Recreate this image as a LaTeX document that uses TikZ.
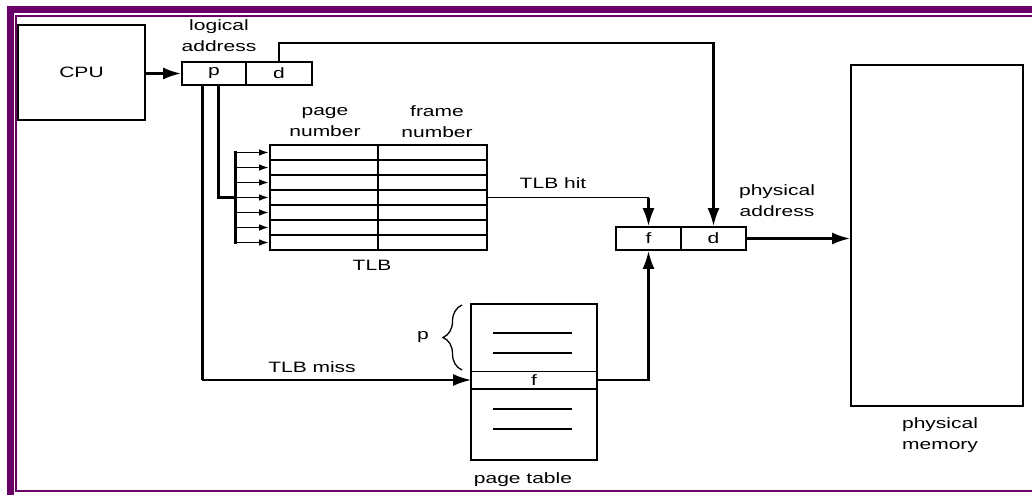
\documentclass[tikz,border=0pt]{standalone}
\usepackage{fontspec}
\setmainfont{Liberation Sans}[FakeStretch=1.4]
\usetikzlibrary{arrows.meta,decorations.pathreplacing}
\definecolor{frame}{RGB}{104,0,104}
\begin{document}
\begin{tikzpicture}[x=1pt,y=-1pt,
  box/.style={draw,line width=1.6pt,inner sep=0pt,font=\fontsize{15}{17}\selectfont},
  lbl/.style={inner sep=0pt,align=center,font=\fontsize{15}{21}\selectfont},
  arr/.style={line width=2.6pt,-{Latex[length=18pt,width=12pt]}},
  thinarr/.style={line width=1.8pt,-{Latex[length=18pt,width=12pt]}},
  conn/.style={line width=3pt},
  barr/.style={line width=1.8pt,-{Latex[length=10pt,width=6.5pt]}},
  rowline/.style={line width=1.1pt}]
\useasboundingbox (0,0) rectangle (1032,495);
% frame
\fill[frame] (7,6) rectangle (1032,13);
\fill[frame] (7,6) rectangle (14,495);
\draw[frame,line width=2pt] (1032,16) -- (16,16) -- (16,491) -- (1032,491);
% CPU
\node[box,minimum width=127pt,minimum height=95pt] (cpu) at (81.5,72.5) {CPU};
% logical address
\node[box,minimum width=64pt,minimum height=23pt] (lp) at (214,73.5) {p};
\node[box,minimum width=66pt,minimum height=23pt] (ld) at (279,73.5) {d};
\node[lbl] (lalbl) at (219,35.5) {logical\\address};
% physical address
\node[box,minimum width=65pt,minimum height=23pt] (pf) at (648.5,238.5) {f};
\node[box,minimum width=65pt,minimum height=23pt] (pd) at (713.5,238.5) {d};
\node[lbl] (palbl) at (777,201) {physical\\address};
% memory
\node[box,minimum width=172pt,minimum height=341pt] (mem) at (937,235.5) {};
\node[lbl] (memlbl) at (940,435) {physical\\memory};
% TLB
\node[box,minimum width=217pt,minimum height=105pt] (tlb) at (378.5,197.5) {};
\foreach \y in {160,175,190,205,220,235} \draw[rowline] (270,\y) -- (487,\y);
\draw[rowline] (378,145) -- (378,250);
\node[lbl] (pnlbl) at (325,122) {page\\number};
\node[lbl] (fnlbl) at (437,122) {frame\\number};
\node[lbl] (tlblbl) at (372,265) {TLB};
% bus
\coordinate (bustop) at (235,151);
\coordinate (busbot) at (235,244);
\draw[conn] (bustop) -- (busbot);
\foreach \y in {152.5,167.5,182.5,197.5,212.5,227.5,242.5}
  \draw[barr] (235,\y) -- (tlb.west |- 0,\y);
% page table
\node[box,minimum width=126pt,minimum height=156pt] (pt) at (534,382) {};
\draw[line width=0.9pt] (471,371) -- (597,371);
\draw[line width=1.6pt] (471,389) -- (597,389);
\foreach \y in {333,353,409,429} \draw[line width=1.3pt] (493,\y) -- (572,\y);
\node[inner sep=0pt,font=\fontsize{15}{17}\selectfont] (ptf) at (534,380.5) {f};
\coordinate (ptfl) at (471,380);
\coordinate (ptfr) at (597,380);
\node[lbl] (ptlbl) at (523,480) {page table};
\draw[line width=1.3pt,decorate,decoration={brace,amplitude=19pt,aspect=0.5}] (462,370) -- (462,305);
\node[lbl] (plbl) at (423,337) {p};
% connectors
\draw[arr] (cpu.east |- lp) -- (lp.west);
\coordinate (dturn) at (713.5,43);
\draw[arr] (ld.north) |- (dturn) -- (pd.north);
\coordinate (p1) at (202,85);
\coordinate (p2) at (218,85);
\draw[conn] (p2) |- (235,197.5);
\draw[conn] (p1) -- (202,380);
\draw[thinarr] (202,380) -- (ptfl);
\node[lbl] (misslbl) at (312,367) {TLB miss};
\draw[line width=1.8pt] (tlb.east) -- (648.5,197.5);
\draw[arr] (648.5,197.5) -- (pf.north);
\node[lbl] (hitlbl) at (553,183) {TLB hit};
\draw[line width=1.8pt] (ptfr) -- (648.5,380);
\draw[arr] (648.5,381) -- (pf.south);
\draw[arr] (pd.east) -- (mem.west |- pd.east);
\end{tikzpicture}
\end{document}
